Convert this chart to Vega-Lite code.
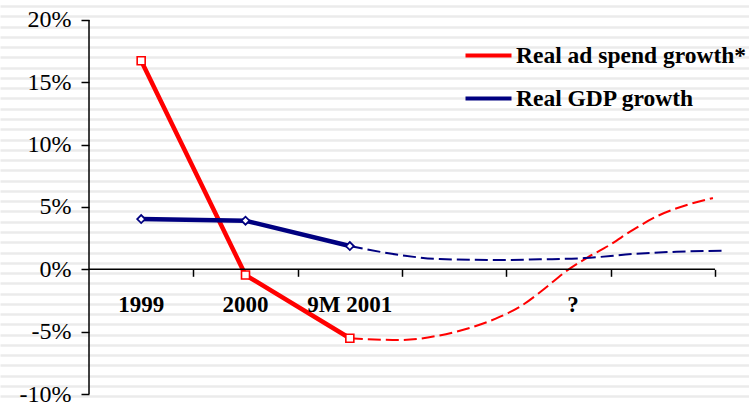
{
  "$schema": "https://vega.github.io/schema/vega-lite/v6.json",
  "width": 749,
  "height": 404,
  "autosize": "none",
  "padding": 0,
  "background": "white",
  "config": {"view": {"stroke": null}},
  "data": {
    "values": [
      {"series": "Real ad spend growth*", "part": "actual", "x": 0.5, "v": 0.1673},
      {"series": "Real ad spend growth*", "part": "actual", "x": 1.5, "v": -0.0046},
      {"series": "Real ad spend growth*", "part": "actual", "x": 2.5, "v": -0.0553},
      {"series": "Real GDP growth", "part": "actual", "x": 0.5, "v": 0.0403},
      {"series": "Real GDP growth", "part": "actual", "x": 1.5, "v": 0.0390},
      {"series": "Real GDP growth", "part": "actual", "x": 2.5, "v": 0.0187},
      {"series": "Real ad spend growth*", "part": "forecast", "x": 2.5, "v": -0.0553},
      {"series": "Real ad spend growth*", "part": "forecast", "x": 2.98, "v": -0.0567},
      {"series": "Real ad spend growth*", "part": "forecast", "x": 3.36, "v": -0.0530},
      {"series": "Real ad spend growth*", "part": "forecast", "x": 3.65, "v": -0.0470},
      {"series": "Real ad spend growth*", "part": "forecast", "x": 3.94, "v": -0.0380},
      {"series": "Real ad spend growth*", "part": "forecast", "x": 4.13, "v": -0.0300},
      {"series": "Real ad spend growth*", "part": "forecast", "x": 4.35, "v": -0.0166},
      {"series": "Real ad spend growth*", "part": "forecast", "x": 4.58, "v": -0.0011},
      {"series": "Real ad spend growth*", "part": "forecast", "x": 4.77, "v": 0.0091},
      {"series": "Real ad spend growth*", "part": "forecast", "x": 4.99, "v": 0.0195},
      {"series": "Real ad spend growth*", "part": "forecast", "x": 5.21, "v": 0.0315},
      {"series": "Real ad spend growth*", "part": "forecast", "x": 5.47, "v": 0.0436},
      {"series": "Real ad spend growth*", "part": "forecast", "x": 5.73, "v": 0.0516},
      {"series": "Real ad spend growth*", "part": "forecast", "x": 5.98, "v": 0.0572},
      {"series": "Real GDP growth", "part": "forecast", "x": 2.5, "v": 0.0187},
      {"series": "Real GDP growth", "part": "forecast", "x": 2.98, "v": 0.0115},
      {"series": "Real GDP growth", "part": "forecast", "x": 3.36, "v": 0.0082},
      {"series": "Real GDP growth", "part": "forecast", "x": 3.94, "v": 0.0075},
      {"series": "Real GDP growth", "part": "forecast", "x": 4.32, "v": 0.0080},
      {"series": "Real GDP growth", "part": "forecast", "x": 4.75, "v": 0.0090},
      {"series": "Real GDP growth", "part": "forecast", "x": 5.21, "v": 0.0123},
      {"series": "Real GDP growth", "part": "forecast", "x": 5.63, "v": 0.0141},
      {"series": "Real GDP growth", "part": "forecast", "x": 6.07, "v": 0.0149}
    ]
  },
  "layer": [
    {
      "encoding": {
        "x": {
          "field": "x",
          "type": "quantitative",
          "scale": {"domain": [-0.8531, 6.3259], "nice": false, "zero": false},
          "axis": {"orient": "bottom", "offset": -134.7, "domain": false, "grid": false, "title": null, "values": [1, 2, 3, 4, 5, 6], "ticks": true, "tickSize": 7, "tickColor": "black", "tickWidth": 1.5, "labels": false}
        },
        "y": {
          "field": "v",
          "type": "quantitative",
          "scale": {"domain": [-0.10802, 0.21604], "nice": false, "zero": false},
          "axis": {
            "orient": "left", "offset": -89, "domain": false, "title": null,
            "values": [0.2112, 0.2030, 0.1947, 0.1865, 0.1783, 0.1700, 0.1618, 0.1535, 0.1453, 0.1371, 0.1288, 0.1206, 0.1124, 0.1041, 0.0959, 0.0876, 0.0794, 0.0712, 0.0629, 0.0547, 0.0465, 0.0382, 0.0300, 0.0217, 0.0135, 0.0053, -0.0030, -0.0112, -0.0194, -0.0277, -0.0359, -0.0442, -0.0524, -0.0606, -0.0689, -0.0771, -0.0853, -0.0936, -0.1018, -0.1, -0.05, 0, 0.05, 0.1, 0.15, 0.2],
            "grid": true, "gridColor": "#ebebeb", "gridWidth": 2.5,
            "gridOpacity": {"condition": {"test": "abs(datum.value*20 - round(datum.value*20)) < 0.0001", "value": 0}, "value": 1},
            "ticks": true, "tickColor": "black", "tickSize": 8, "tickWidth": 1.5,
            "tickOpacity": {"condition": {"test": "abs(datum.value*20 - round(datum.value*20)) < 0.0001", "value": 1}, "value": 0},
            "labelExpr": "abs(datum.value*20 - round(datum.value*20)) < 0.0001 ? ((datum.value < -0.000001 ? '-' : '') + format(abs(datum.value), '.0%')) : ''",
            "labelFont": "Liberation Serif", "labelFontSize": 24, "labelColor": "black", "labelPadding": 10, "labelOverlap": false, "labelFlush": false
          }
        }
      },
      "layer": [
        {
          "transform": [{"filter": "datum.part == 'actual'"}],
          "mark": {"type": "line", "strokeWidth": 4.5},
          "encoding": {
            "color": {
              "field": "series",
              "type": "nominal",
              "scale": {"domain": ["Real ad spend growth*", "Real GDP growth"], "range": ["#ff0000", "#000080"]},
              "legend": {
                "orient": "none", "legendX": 475, "legendY": 42, "title": null, "padding": 0,
                "symbolType": "M-2,0H2", "symbolSize": 529, "symbolStrokeWidth": 4, "symbolDash": [1, 0],
                "labelFont": "Liberation Serif", "labelFontSize": 23.5, "labelFontWeight": "bold", "labelColor": "black",
                "labelOffset": 14, "labelLimit": 400, "rowPadding": 18
              }
            }
          }
        },
        {
          "transform": [{"filter": "datum.part == 'forecast'"}],
          "mark": {"type": "line", "strokeWidth": 2, "strokeDash": [13, 5], "interpolate": "monotone"},
          "encoding": {"color": {"field": "series", "type": "nominal"}}
        },
        {
          "transform": [{"filter": "datum.part == 'actual' && datum.series == 'Real ad spend growth*'"}],
          "mark": {"type": "point", "shape": "square", "fill": "white", "fillOpacity": 1, "stroke": "#ff0000", "opacity": 1, "strokeWidth": 1.6, "size": 64}
        },
        {
          "transform": [{"filter": "datum.part == 'actual' && datum.series == 'Real GDP growth'"}],
          "mark": {"type": "point", "shape": "diamond", "fill": "white", "fillOpacity": 1, "stroke": "#000080", "opacity": 1, "strokeWidth": 1.8, "size": 64}
        }
      ]
    },
    {
      "transform": [{"aggregate": [{"op": "count", "as": "n"}]}],
      "mark": {"type": "rule", "color": "black", "strokeWidth": 1.5},
      "encoding": {
        "x": {
          "datum": 0, "type": "quantitative",
          "scale": {"domain": [-0.8531, 6.3259], "nice": false, "zero": false},
          "axis": {"orient": "bottom", "offset": -134.7, "domain": false, "grid": false, "title": null, "values": [1, 2, 3, 4, 5, 6], "ticks": true, "tickSize": 7, "tickColor": "black", "tickWidth": 1.5, "labels": false}
        },
        "y": {
          "datum": -0.1, "type": "quantitative",
          "scale": {"domain": [-0.10802, 0.21604], "nice": false, "zero": false},
          "axis": {
            "orient": "left", "offset": -89, "domain": false, "title": null,
            "values": [0.2112, 0.2030, 0.1947, 0.1865, 0.1783, 0.1700, 0.1618, 0.1535, 0.1453, 0.1371, 0.1288, 0.1206, 0.1124, 0.1041, 0.0959, 0.0876, 0.0794, 0.0712, 0.0629, 0.0547, 0.0465, 0.0382, 0.0300, 0.0217, 0.0135, 0.0053, -0.0030, -0.0112, -0.0194, -0.0277, -0.0359, -0.0442, -0.0524, -0.0606, -0.0689, -0.0771, -0.0853, -0.0936, -0.1018, -0.1, -0.05, 0, 0.05, 0.1, 0.15, 0.2],
            "grid": true, "gridColor": "#ebebeb", "gridWidth": 2.5,
            "gridOpacity": {"condition": {"test": "abs(datum.value*20 - round(datum.value*20)) < 0.0001", "value": 0}, "value": 1},
            "ticks": true, "tickColor": "black", "tickSize": 8, "tickWidth": 1.5,
            "tickOpacity": {"condition": {"test": "abs(datum.value*20 - round(datum.value*20)) < 0.0001", "value": 1}, "value": 0},
            "labelExpr": "abs(datum.value*20 - round(datum.value*20)) < 0.0001 ? ((datum.value < -0.000001 ? '-' : '') + format(abs(datum.value), '.0%')) : ''",
            "labelFont": "Liberation Serif", "labelFontSize": 24, "labelColor": "black", "labelPadding": 10, "labelOverlap": false, "labelFlush": false
          }
        },
        "y2": {"datum": 0.2}
      }
    },
    {
      "transform": [{"aggregate": [{"op": "count", "as": "n"}]}],
      "mark": {"type": "rule", "color": "black", "strokeWidth": 1.5},
      "encoding": {
        "x": {
          "datum": 0, "type": "quantitative",
          "scale": {"domain": [-0.8531, 6.3259], "nice": false, "zero": false},
          "axis": {"orient": "bottom", "offset": -134.7, "domain": false, "grid": false, "title": null, "values": [1, 2, 3, 4, 5, 6], "ticks": true, "tickSize": 7, "tickColor": "black", "tickWidth": 1.5, "labels": false}
        },
        "x2": {"datum": 6},
        "y": {
          "datum": 0, "type": "quantitative",
          "scale": {"domain": [-0.10802, 0.21604], "nice": false, "zero": false},
          "axis": {
            "orient": "left", "offset": -89, "domain": false, "title": null,
            "values": [0.2112, 0.2030, 0.1947, 0.1865, 0.1783, 0.1700, 0.1618, 0.1535, 0.1453, 0.1371, 0.1288, 0.1206, 0.1124, 0.1041, 0.0959, 0.0876, 0.0794, 0.0712, 0.0629, 0.0547, 0.0465, 0.0382, 0.0300, 0.0217, 0.0135, 0.0053, -0.0030, -0.0112, -0.0194, -0.0277, -0.0359, -0.0442, -0.0524, -0.0606, -0.0689, -0.0771, -0.0853, -0.0936, -0.1018, -0.1, -0.05, 0, 0.05, 0.1, 0.15, 0.2],
            "grid": true, "gridColor": "#ebebeb", "gridWidth": 2.5,
            "gridOpacity": {"condition": {"test": "abs(datum.value*20 - round(datum.value*20)) < 0.0001", "value": 0}, "value": 1},
            "ticks": true, "tickColor": "black", "tickSize": 8, "tickWidth": 1.5,
            "tickOpacity": {"condition": {"test": "abs(datum.value*20 - round(datum.value*20)) < 0.0001", "value": 1}, "value": 0},
            "labelExpr": "abs(datum.value*20 - round(datum.value*20)) < 0.0001 ? ((datum.value < -0.000001 ? '-' : '') + format(abs(datum.value), '.0%')) : ''",
            "labelFont": "Liberation Serif", "labelFontSize": 24, "labelColor": "black", "labelPadding": 10, "labelOverlap": false, "labelFlush": false
          }
        }
      }
    },
    {
      "data": {
        "values": [
          {"label": "1999", "x": 0.5},
          {"label": "2000", "x": 1.5},
          {"label": "9M 2001", "x": 2.5},
          {"label": "?", "x": 4.64}
        ]
      },
      "mark": {"type": "text", "font": "Liberation Serif", "fontSize": 23, "fontWeight": "bold", "color": "black", "align": "center", "baseline": "middle"},
      "encoding": {
        "x": {
          "field": "x", "type": "quantitative",
          "scale": {"domain": [-0.8531, 6.3259], "nice": false, "zero": false},
          "axis": {"orient": "bottom", "offset": -134.7, "domain": false, "grid": false, "title": null, "values": [1, 2, 3, 4, 5, 6], "ticks": true, "tickSize": 7, "tickColor": "black", "tickWidth": 1.5, "labels": false}
        },
        "y": {
          "datum": -0.0286, "type": "quantitative",
          "scale": {"domain": [-0.10802, 0.21604], "nice": false, "zero": false},
          "axis": {
            "orient": "left", "offset": -89, "domain": false, "title": null,
            "values": [0.2112, 0.2030, 0.1947, 0.1865, 0.1783, 0.1700, 0.1618, 0.1535, 0.1453, 0.1371, 0.1288, 0.1206, 0.1124, 0.1041, 0.0959, 0.0876, 0.0794, 0.0712, 0.0629, 0.0547, 0.0465, 0.0382, 0.0300, 0.0217, 0.0135, 0.0053, -0.0030, -0.0112, -0.0194, -0.0277, -0.0359, -0.0442, -0.0524, -0.0606, -0.0689, -0.0771, -0.0853, -0.0936, -0.1018, -0.1, -0.05, 0, 0.05, 0.1, 0.15, 0.2],
            "grid": true, "gridColor": "#ebebeb", "gridWidth": 2.5,
            "gridOpacity": {"condition": {"test": "abs(datum.value*20 - round(datum.value*20)) < 0.0001", "value": 0}, "value": 1},
            "ticks": true, "tickColor": "black", "tickSize": 8, "tickWidth": 1.5,
            "tickOpacity": {"condition": {"test": "abs(datum.value*20 - round(datum.value*20)) < 0.0001", "value": 1}, "value": 0},
            "labelExpr": "abs(datum.value*20 - round(datum.value*20)) < 0.0001 ? ((datum.value < -0.000001 ? '-' : '') + format(abs(datum.value), '.0%')) : ''",
            "labelFont": "Liberation Serif", "labelFontSize": 24, "labelColor": "black", "labelPadding": 10, "labelOverlap": false, "labelFlush": false
          }
        },
        "text": {"field": "label"}
      }
    }
  ]
}
